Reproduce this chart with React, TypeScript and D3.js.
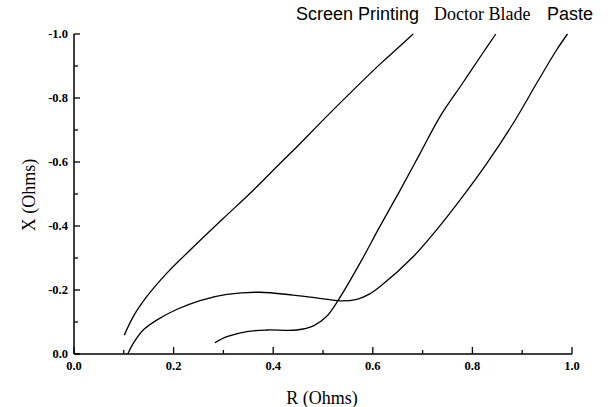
import React from "react";
import * as d3 from "d3";

const screenR = [0.101, 0.119, 0.146, 0.186, 0.24, 0.3, 0.36, 0.414, 0.437, 0.52, 0.614, 0.648, 0.681];
const screenX = [-0.059, -0.117, -0.179, -0.252, -0.335, -0.424, -0.512, -0.596, -0.631, -0.762, -0.905, -0.953, -1.0];

const bladeR = [0.283, 0.307, 0.347, 0.387, 0.447, 0.481, 0.507, 0.531, 0.574, 0.614, 0.655, 0.695, 0.735, 0.782, 0.822, 0.847];
const bladeX = [-0.035, -0.054, -0.07, -0.075, -0.075, -0.088, -0.117, -0.169, -0.283, -0.398, -0.512, -0.627, -0.742, -0.85, -0.943, -1.0];

const pasteR = [0.108, 0.119, 0.139, 0.166, 0.206, 0.253, 0.307, 0.373, 0.44, 0.494, 0.534, 0.568, 0.594, 0.614, 0.681, 0.728, 0.775, 0.829, 0.882, 0.929, 0.969, 0.991];
const pasteX = [0.0, -0.033, -0.075, -0.106, -0.139, -0.167, -0.186, -0.193, -0.184, -0.174, -0.166, -0.171, -0.188, -0.21, -0.304, -0.388, -0.481, -0.596, -0.721, -0.846, -0.95, -1.0];

const xTicks = [0, 0.1, 0.2, 0.3, 0.4, 0.5, 0.6, 0.7, 0.8, 0.9, 1.0];
const xTickLabels = ["0.0", "0.2", "0.4", "0.6", "0.8", "1.0"];
const yTicks = [0, -0.1, -0.2, -0.3, -0.4, -0.5, -0.6, -0.7, -0.8, -0.9, -1.0];
const yTickLabels = ["0.0", "-0.2", "-0.4", "-0.6", "-0.8", "-1.0"];

export default function App() {
  const x = d3.scaleLinear().domain([0, 1]).range([74, 572]);
  const y = d3.scaleLinear().domain([0, -1]).range([354, 34]);
  const line = d3
    .line<[number, number]>()
    .x((d) => x(d[0]))
    .y((d) => y(d[1]))
    .curve(d3.curveCatmullRom.alpha(0.5));
  const series = [
    { r: screenR, v: screenX },
    { r: bladeR, v: bladeX },
    { r: pasteR, v: pasteX },
  ];
  const serif = "'Liberation Serif', 'Times New Roman', serif";
  const sans = "'Liberation Sans', Arial, sans-serif";
  return (
    <svg
      width={608}
      height={407}
      style={{ position: "absolute", left: 0, top: 0, background: "#fff" }}
    >
      <rect width={608} height={407} fill="#fff" />
      <line x1={x(0)} x2={x(0)} y1={y(0)} y2={y(-1)} stroke="#000" strokeWidth={1.5} />
      <line x1={x(0)} x2={x(1)} y1={y(0)} y2={y(0)} stroke="#000" strokeWidth={1.5} />
      {xTicks.map((t, i) => (
        <line
          key={"xt" + i}
          x1={x(t)}
          x2={x(t)}
          y1={y(0)}
          y2={y(0) - (i % 2 === 0 ? 7 : 4)}
          stroke="#000"
          strokeWidth={1.3}
        />
      ))}
      {yTicks.map((t, i) => (
        <line
          key={"yt" + i}
          x1={x(0)}
          x2={x(0) + (i % 2 === 0 ? 6 : 4)}
          y1={y(t)}
          y2={y(t)}
          stroke="#000"
          strokeWidth={1.3}
        />
      ))}
      {xTickLabels.map((l, i) => (
        <text
          key={"xl" + i}
          x={x(i * 0.2)}
          y={370}
          textAnchor="middle"
          fontFamily={serif}
          fontSize={12.5}
          fontWeight="bold"
        >
          {l}
        </text>
      ))}
      {yTickLabels.map((l, i) => (
        <text
          key={"yl" + i}
          x={68}
          y={y(-i * 0.2) + 4}
          textAnchor="end"
          fontFamily={serif}
          fontSize={12.5}
          fontWeight="bold"
        >
          {l}
        </text>
      ))}
      <text x={322} y={404} textAnchor="middle" fontFamily={serif} fontSize={18}>
        R (Ohms)
      </text>
      <text
        transform={`translate(35,195) rotate(-90)`}
        textAnchor="middle"
        fontFamily={serif}
        fontSize={18}
      >
        X (Ohms)
      </text>
      {series.map((s, i) => (
        <path
          key={"s" + i}
          d={line(s.r.map((r, j) => [r, s.v[j]] as [number, number])) || ""}
          fill="none"
          stroke="#000"
          strokeWidth={1.3}
        />
      ))}
      <text x={296} y={20} fontFamily={sans} fontSize={18}>
        Screen Printing
      </text>
      <text x={434} y={20} fontFamily={serif} fontSize={18}>
        Doctor Blade
      </text>
      <text x={547} y={20} fontFamily={sans} fontSize={18}>
        Paste
      </text>
    </svg>
  );
}
